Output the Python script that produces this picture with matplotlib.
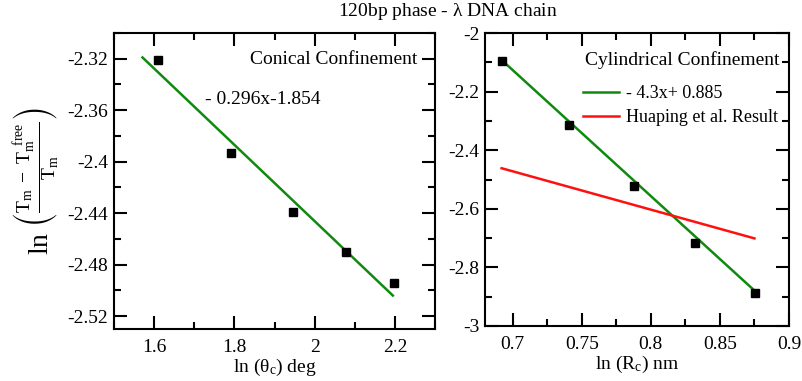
import numpy as np
import matplotlib
matplotlib.use('Agg')
import matplotlib.pyplot as plt
from matplotlib.ticker import MultipleLocator

plt.rcParams['font.family'] = ['Liberation Serif', 'DejaVu Serif']
plt.rcParams['mathtext.fontset'] = 'stix'

# conical confinement data
cone_x = [1.609, 1.791, 1.945, 2.079, 2.198]
cone_y = [-2.321, -2.393, -2.439, -2.470, -2.494]
cone_fit_x = [1.571, 2.195]
cone_fit_y = [-2.319, -2.504]
cone_fit_label = '- 0.296x-1.854'

# cylindrical confinement data
cyl_x = [0.6923, 0.7405, 0.7878, 0.8319, 0.8753]
cyl_y = [-2.094, -2.313, -2.521, -2.716, -2.889]
cyl_fit_x = [0.692, 0.875]
cyl_fit_y = [-2.092, -2.879]
cyl_fit_label = '- 4.3x+ 0.885'
huaping_x = [0.692, 0.875]
huaping_y = [-2.4615, -2.701]
huaping_label = 'Huaping et al. Result'

green = '#0f8a0f'
red = '#ff1010'
fs = 14

fig = plt.figure(figsize=(8.03, 3.81), dpi=100)
ax1 = fig.add_axes([114 / 803, 1 - 329 / 381, 321 / 803, 296 / 381])
ax2 = fig.add_axes([485 / 803, 1 - 326 / 381, 304 / 803, 293 / 381])


def style_axes(ax):
    for s in ax.spines.values():
        s.set_linewidth(1.5)
    ax.tick_params(which='both', direction='in', top=True, right=True,
                   width=1.5, labelsize=fs)
    ax.tick_params(which='major', length=9.5)
    ax.tick_params(which='minor', length=5)
    ax.tick_params(axis='y', pad=4)
    ax.tick_params(axis='x', pad=7)
    ax.xaxis.set_major_formatter(plt.FuncFormatter(lambda v, p: f'{v:g}'))
    ax.yaxis.set_major_formatter(plt.FuncFormatter(lambda v, p: f'{v:g}'))


# left panel
ax1.plot(cone_fit_x, cone_fit_y, color=green, lw=1.8)
ax1.plot(cone_x, cone_y, 's', color='black', ms=5.8)
ax1.set_xlim(1.5, 2.3)
ax1.set_ylim(-2.53, -2.30)
ax1.xaxis.set_major_locator(MultipleLocator(0.2))
ax1.xaxis.set_minor_locator(MultipleLocator(0.1))
ax1.yaxis.set_major_locator(MultipleLocator(0.04))
ax1.yaxis.set_minor_locator(MultipleLocator(0.02))
style_axes(ax1)
ax1.set_xlabel(r'ln ($\mathregular{\theta_c}$) deg', fontsize=fs, labelpad=1)
ax1.set_ylabel(r'$\mathregular{ln\ \left(\frac{T_m\ -\ T_m^{\ \ free}}{T_m}\right)}$',
               fontsize=20, labelpad=4)
ax1.text(0.944, 0.909, 'Conical Confinement', transform=ax1.transAxes,
         ha='right', va='center', fontsize=fs)
ax1.text(0.283, 0.774, cone_fit_label, transform=ax1.transAxes,
         ha='left', va='center', fontsize=fs)

# right panel
ax2.plot(cyl_fit_x, cyl_fit_y, color=green, lw=1.8, label=cyl_fit_label)
ax2.plot(huaping_x, huaping_y, color=red, lw=1.8, label=huaping_label)
ax2.plot(cyl_x, cyl_y, 's', color='black', ms=5.8)
ax2.set_xlim(0.68, 0.9)
ax2.set_ylim(-3, -2)
ax2.xaxis.set_major_locator(MultipleLocator(0.05))
ax2.xaxis.set_minor_locator(MultipleLocator(0.025))
ax2.yaxis.set_major_locator(MultipleLocator(0.2))
ax2.yaxis.set_minor_locator(MultipleLocator(0.1))
style_axes(ax2)
ax2.set_xlabel(r'ln ($\mathregular{R_c}$) nm', fontsize=fs, labelpad=1)
ax2.text(0.970, 0.908, 'Cylindrical Confinement', transform=ax2.transAxes,
         ha='right', va='center', fontsize=fs)
ax2.legend(loc='upper right', bbox_to_anchor=(1.0, 0.86), frameon=False,
           fontsize=fs - 1, handlelength=2.0, handletextpad=0.4,
           labelspacing=0.4, borderaxespad=0.2)

fig.text(448 / 803, 1 - 12 / 381, r'120bp phase - $\mathregular{\lambda}$ DNA chain',
         ha='center', va='center', fontsize=fs)

fig.savefig('out.png', dpi=100)
